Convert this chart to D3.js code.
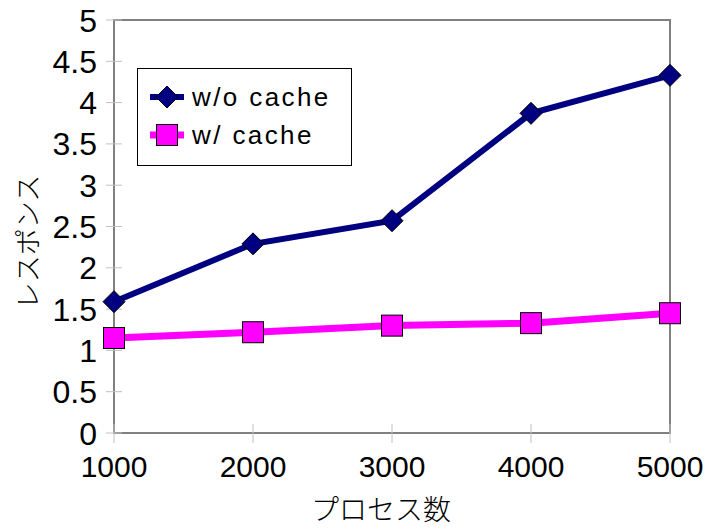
<!DOCTYPE html>
<html lang="ja">
<head>
<meta charset="utf-8">
<title>レスポンス</title>
<script src="https://d3js.org/d3.v7.min.js"></script>
<style>
  body { margin: 0; background: #fff; }
  text { font-family: "Liberation Sans", Arial, sans-serif; }
</style>
</head>
<body>
<script>
// data
var procs = [1000, 2000, 3000, 4000, 5000];
var noCache = [1.59, 2.29, 2.57, 3.87, 4.33];
var withCache = [1.15, 1.22, 1.30, 1.33, 1.45];
var yTicks = [0, 0.5, 1, 1.5, 2, 2.5, 3, 3.5, 4, 4.5, 5];
var seriesNames = ["w/o cache", "w/ cache"];

var W = 709, H = 531;
var pL = 114, pR = 670, pT = 20, pB = 433;

var svg = d3.select("body").append("svg")
  .attr("width", W).attr("height", H);

var x = d3.scaleLinear().domain([1000, 5000]).range([pL, pR]);
var y = d3.scaleLinear().domain([0, 5]).range([pB, pT]);

// frame
svg.append("rect")
  .attr("x", pL).attr("y", pT)
  .attr("width", pR - pL).attr("height", pB - pT)
  .attr("fill", "none").attr("stroke", "#808080").attr("stroke-width", 2);

// y ticks
svg.selectAll(".yt").data(yTicks).enter().append("line")
  .attr("x1", pL - 8).attr("x2", pL + 8)
  .attr("y1", function(d){ return y(d); }).attr("y2", function(d){ return y(d); })
  .attr("stroke", "#c0c0c0").attr("stroke-width", 1);
svg.selectAll(".yl").data(yTicks).enter().append("text")
  .attr("x", 97).attr("y", function(d){ return y(d); })
  .attr("dy", "0.36em").attr("text-anchor", "end")
  .attr("font-size", 32)
  .style("font-family", "'Liberation Sans Narrow', 'Liberation Sans', sans-serif")
  .text(function(d){ return d; });

// x ticks
svg.selectAll(".xt").data(procs).enter().append("line")
  .attr("x1", function(d){ return x(d); }).attr("x2", function(d){ return x(d); })
  .attr("y1", pB - 9).attr("y2", pB + 10)
  .attr("stroke", "#c0c0c0").attr("stroke-width", 1);
svg.selectAll(".xl").data(procs).enter().append("text")
  .attr("x", function(d){ return x(d); }).attr("y", 477)
  .attr("text-anchor", "middle")
  .attr("font-size", 30)
  .text(function(d){ return d; });

// axis titles
svg.append("text")
  .attr("x", 381).attr("y", 520)
  .attr("text-anchor", "middle")
  .attr("font-size", 28)
  .style("font-family", "'Noto Sans CJK JP', sans-serif")
  .style("font-weight", 300)
  .text("プロセス数");
svg.append("text")
  .attr("transform", "translate(38,242) rotate(-90)")
  .attr("text-anchor", "middle")
  .attr("font-size", 27)
  .style("font-family", "'Noto Sans CJK JP', sans-serif")
  .style("font-weight", 300)
  .text("レスポンス");

var line = d3.line()
  .x(function(d, i){ return x(procs[i]); })
  .y(function(d){ return y(d); });

// w/ cache
svg.append("path").datum(withCache)
  .attr("d", line).attr("fill", "none")
  .attr("stroke", "#ff00ff").attr("stroke-width", 7);
svg.selectAll(".sq").data(withCache).enter().append("rect")
  .attr("x", function(d, i){ return x(procs[i]) - 10.5; })
  .attr("y", function(d){ return y(d) - 10.5; })
  .attr("width", 21).attr("height", 21)
  .attr("fill", "#ff00ff").attr("stroke", "#000").attr("stroke-width", 1);

// w/o cache
svg.append("path").datum(noCache)
  .attr("d", line).attr("fill", "none")
  .attr("stroke", "#000080").attr("stroke-width", 6);
var diamond = "M0,-11L11,0L0,11L-11,0Z";
svg.selectAll(".dm").data(noCache).enter().append("path")
  .attr("d", diamond)
  .attr("transform", function(d, i){ return "translate(" + x(procs[i]) + "," + y(d) + ")"; })
  .attr("fill", "#000080").attr("stroke", "#000").attr("stroke-width", 1);

// legend
var lg = svg.append("g");
lg.append("rect")
  .attr("x", 137.5).attr("y", 68.5).attr("width", 214).attr("height", 97)
  .attr("fill", "#fff").attr("stroke", "#000").attr("stroke-width", 1);
var rows = [
  { name: seriesNames[0], color: "#000080", yy: 97, mark: "d" },
  { name: seriesNames[1], color: "#ff00ff", yy: 135, mark: "s" }
];
rows.forEach(function(r){
  lg.append("line").attr("x1", 150).attr("x2", 184)
    .attr("y1", r.yy).attr("y2", r.yy)
    .attr("stroke", r.color).attr("stroke-width", r.mark == "d" ? 6 : 7);
  if (r.mark == "d") {
    lg.append("path").attr("d", diamond)
      .attr("transform", "translate(167," + r.yy + ")")
      .attr("fill", r.color).attr("stroke", "#000");
  } else {
    lg.append("rect").attr("x", 167 - 10.5).attr("y", r.yy - 10.5)
      .attr("width", 21).attr("height", 21)
      .attr("fill", r.color).attr("stroke", "#000");
  }
  lg.append("text").attr("x", 192).attr("y", r.yy).attr("dy", "0.36em")
    .attr("font-size", 26).attr("letter-spacing", 2.4).text(r.name);
});
</script>
</body>
</html>
